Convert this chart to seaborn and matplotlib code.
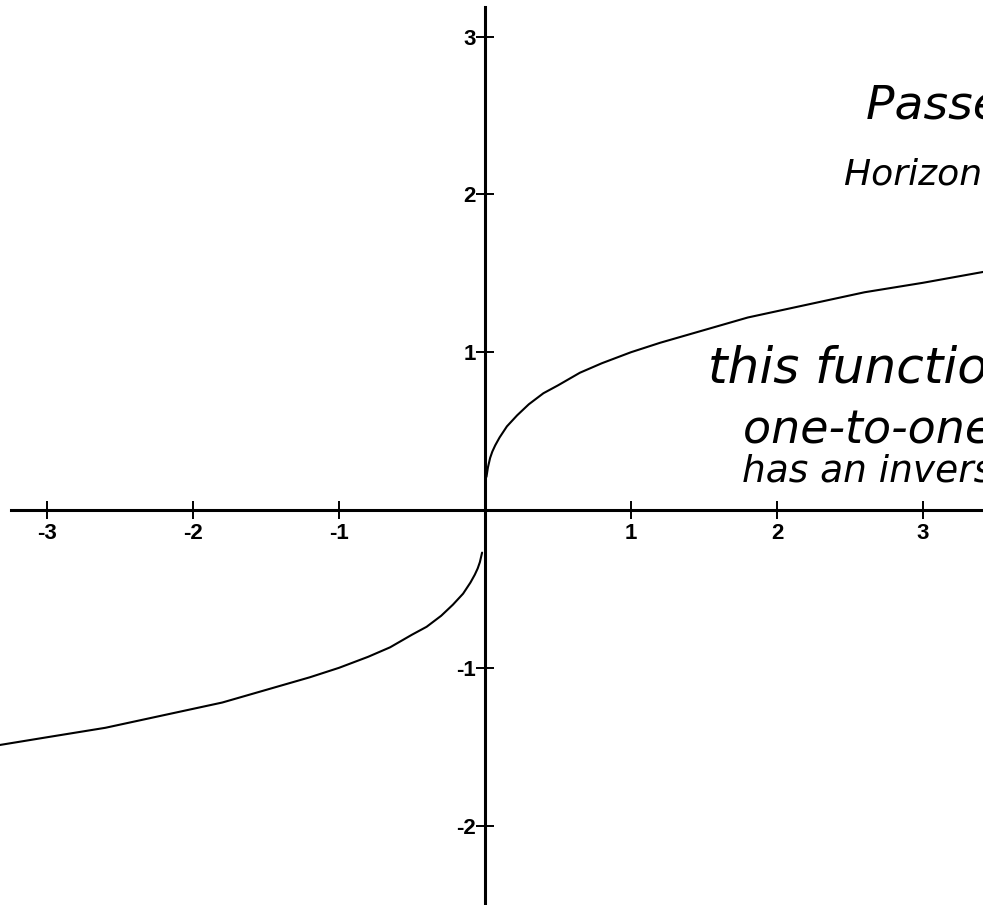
import matplotlib
matplotlib.use("Agg")
import matplotlib.pyplot as plt
import seaborn as sns
import pandas as pd

# Points read along the curve y = cube root of x (two branches, gap at the origin)
x_neg = [-3.33, -3.0, -2.6, -2.2, -1.8, -1.5, -1.2, -1.0, -0.8, -0.65, -0.5, -0.4,
         -0.3, -0.22, -0.15, -0.1, -0.07, -0.05, -0.035, -0.02]
y_neg = [-1.49, -1.44, -1.38, -1.30, -1.22, -1.14, -1.06, -1.00, -0.93, -0.87, -0.79, -0.74,
         -0.67, -0.60, -0.53, -0.46, -0.41, -0.37, -0.33, -0.27]
x_pos = [0.01, 0.02, 0.035, 0.05, 0.07, 0.1, 0.15, 0.22, 0.3, 0.4, 0.5, 0.65, 0.8, 1.0,
         1.2, 1.5, 1.8, 2.2, 2.6, 3.0, 3.42]
y_pos = [0.21, 0.27, 0.33, 0.37, 0.41, 0.46, 0.53, 0.60, 0.67, 0.74, 0.79, 0.87, 0.93, 1.00,
         1.06, 1.14, 1.22, 1.30, 1.38, 1.44, 1.51]

x_ticks = [-3, -2, -1, 1, 2, 3]
y_ticks = [-2, -1, 1, 2, 3]

# Handwritten notes: text, x, y (baseline), font size
notes = [
    ("Passes the", 2.61, 2.48, 34),
    ("Horizontal line test", 2.46, 2.06, 26),
    ("this function is", 1.525, 0.81, 36),
    ("one-to-one and", 1.765, 0.43, 33),
    ("has an inverse", 1.76, 0.18, 27),
]

sns.set_style("white")
plt.rcParams["font.family"] = ["DejaVu Sans"]

fig = plt.figure(figsize=(9.83, 9.05), dpi=100)
ax = fig.add_axes([0, 0, 1, 1])

neg = pd.DataFrame({"x": x_neg, "y": y_neg})
pos = pd.DataFrame({"x": x_pos, "y": y_pos})
sns.lineplot(data=neg, x="x", y="y", ax=ax, color="black", linewidth=1.5, sort=False)
sns.lineplot(data=pos, x="x", y="y", ax=ax, color="black", linewidth=1.5, sort=False)

ax.set_xlim(-3.322, 3.411)
ax.set_ylim(-2.503, 3.232)
ax.set_xlabel("")
ax.set_ylabel("")

for side in ("top", "right"):
    ax.spines[side].set_visible(False)
for side in ("left", "bottom"):
    ax.spines[side].set_position(("data", 0))
    ax.spines[side].set_linewidth(2.2)
    ax.spines[side].set_color("black")
ax.spines["bottom"].set_bounds(-3.25, 3.411)
ax.spines["left"].set_bounds(-2.503, 3.19)

ax.set_xticks(x_ticks)
ax.set_yticks(y_ticks)
ax.set_xticklabels([str(v) for v in x_ticks])
ax.set_yticklabels([str(v) for v in y_ticks])
ax.tick_params(axis="both", bottom=True, left=True, direction="inout", length=13,
               width=1.4, color="black", labelcolor="black", labelsize=16)
ax.tick_params(axis="x", pad=3)
ax.tick_params(axis="y", pad=0)
for lab in ax.get_xticklabels() + ax.get_yticklabels():
    lab.set_fontweight("bold")
    lab.set_family("Liberation Sans")

for text, tx, ty, size in notes:
    ax.text(tx, ty, text, fontsize=size, fontstyle="oblique", family="DejaVu Sans",
            color="black", ha="left", va="baseline", clip_on=True)

fig.savefig("out.png", dpi=100, facecolor="white")
